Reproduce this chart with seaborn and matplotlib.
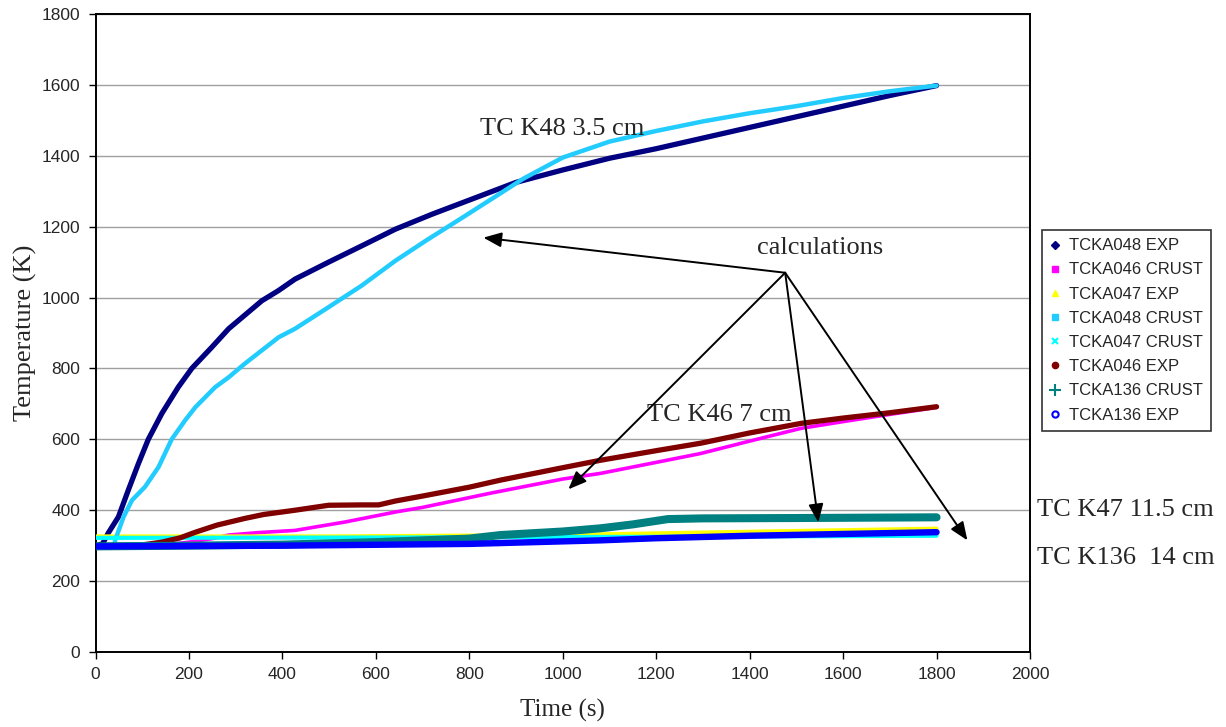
import numpy as np
import pandas as pd
import matplotlib
matplotlib.use("Agg")
import matplotlib.pyplot as plt
from matplotlib.lines import Line2D
import seaborn as sns

# ---------------- data ----------------
t_048_exp = [0, 15, 27, 49, 70, 92, 113, 142, 177, 206, 249, 285, 356, 392, 427, 499, 570,
             642, 720, 800, 900, 1000, 1100, 1200, 1300, 1400, 1500, 1600, 1700, 1800]
T_048_exp = [300, 305, 335, 381, 456, 532, 600, 673, 747, 800, 860, 912, 991, 1020, 1052, 1100, 1146,
             1193, 1235, 1275, 1325, 1360, 1393, 1420, 1450, 1480, 1510, 1540, 1570, 1598]

t_048_crust = [40, 42, 60, 78, 106, 135, 163, 192, 214, 256, 285, 320, 356, 392, 427, 499, 570,
               642, 710, 781, 850, 915, 1000, 1100, 1200, 1300, 1400, 1500, 1600, 1700, 1800]
T_048_crust = [300, 315, 381, 428, 466, 522, 600, 654, 691, 747, 775, 814, 851, 888, 912, 973, 1034,
               1104, 1163, 1222, 1280, 1335, 1395, 1440, 1470, 1497, 1520, 1540, 1563, 1582, 1598]

t_046_exp = [0, 100, 142, 181, 214, 260, 320, 360, 427, 499, 570, 606, 642, 700, 800, 867, 1000,
             1081, 1200, 1295, 1400, 1510, 1600, 1700, 1800]
T_046_exp = [300, 302, 310, 322, 338, 358, 377, 388, 400, 414, 415, 415, 426, 440, 465, 485, 520,
             541, 568, 589, 618, 645, 660, 675, 692]

t_046_crust = [0, 150, 200, 250, 285, 350, 427, 535, 642, 700, 845, 1000, 1081, 1200, 1295,
               1400, 1510, 1600, 1688, 1800]
T_046_crust = [300, 302, 310, 320, 330, 337, 343, 367, 395, 408, 448, 488, 504, 535, 560,
               595, 631, 650, 668, 690]

t_047_exp = [0, 500, 1000, 1300, 1800]
T_047_exp = [326, 326, 330, 337, 348]

t_047_crust = [0, 600, 1200, 1800]
T_047_crust = [322, 323, 325, 328]

t_136_crust = [0, 200, 400, 600, 800, 867, 1000, 1081, 1150, 1200, 1225, 1300, 1500, 1800]
T_136_crust = [298, 300, 303, 310, 320, 330, 340, 349, 360, 370, 375, 377, 378, 380]

t_136_exp = [0, 400, 800, 1081, 1200, 1400, 1600, 1800]
T_136_exp = [298, 300, 305, 315, 321, 328, 333, 338]

series_names = ["TCKA048 EXP", "TCKA046 CRUST", "TCKA047 EXP", "TCKA048 CRUST",
                "TCKA047 CRUST", "TCKA046 EXP", "TCKA136 CRUST", "TCKA136 EXP"]
series_t = [t_048_exp, t_046_crust, t_047_exp, t_048_crust,
            t_047_crust, t_046_exp, t_136_crust, t_136_exp]
series_T = [T_048_exp, T_046_crust, T_047_exp, T_048_crust,
            T_047_crust, T_046_exp, T_136_crust, T_136_exp]

x_ticks = [0, 200, 400, 600, 800, 1000, 1200, 1400, 1600, 1800, 2000]
y_ticks = [0, 200, 400, 600, 800, 1000, 1200, 1400, 1600, 1800]

# ---------------- style ----------------
colors = ["#000080", "#FF00FF", "#FFFF00", "#22CCFF",
          "#00FFFF", "#800000", "#008080", "#0000FF"]
widths = [3.8, 2.6, 3.0, 3.2, 3.0, 3.8, 5.8, 4.6]
markers = ["D", "s", "^", "s", "x", "o", "+", "o"]
msizes = [4, 4, 5, 4, 4, 4.5, 8, 4.5]

sns.set_style("white")
plt.rcParams["font.family"] = ["Liberation Sans", "DejaVu Sans"]

fig = plt.figure(figsize=(12.26, 7.27), dpi=100)
ax = fig.add_axes([95.5 / 1226, 1 - 652 / 727, (1030 - 95.5) / 1226, (652 - 14) / 727])

frames = []
for name, tt, TT in zip(series_names, series_t, series_T):
    frames.append(pd.DataFrame({"Time": tt, "Temp": TT, "series": name}))
df = pd.concat(frames, ignore_index=True)

for i, name in enumerate(series_names):
    sub = df[df["series"] == name]
    sns.lineplot(data=sub, x="Time", y="Temp", ax=ax, color=colors[i],
                 linewidth=widths[i], legend=False, zorder=3 + i,
                 solid_capstyle="round", solid_joinstyle="round", sort=False)

ax.set_xlim(0, 2000)
ax.set_ylim(0, 1800)
ax.set_xticks(x_ticks)
ax.set_yticks(y_ticks)
ax.tick_params(axis="both", labelsize=12.5, direction="out", length=5, width=1,
               color="black", bottom=True, left=True, pad=6)
ax.yaxis.grid(True, color="#a0a0a0", linewidth=1)
ax.xaxis.grid(False)
ax.set_axisbelow(True)
for sp in ax.spines.values():
    sp.set_color("black")
    sp.set_linewidth(1.4)

serif = ["Liberation Serif", "DejaVu Serif"]
ax.set_xlabel("Time (s)", fontsize=18, family=serif, labelpad=12)
ax.set_ylabel("Temperature (K)", fontsize=19, family=serif, labelpad=3)

# annotations
ax.text(823, 1476, "TC K48 3.5 cm", fontsize=19, family=serif, va="center", ha="left", zorder=20)
ax.text(1416, 1141, "calculations", fontsize=19, family=serif, va="center", ha="left", zorder=20)
ax.text(1181, 668, "TC K46 7 cm", fontsize=19, family=serif, va="center", ha="left", zorder=2)
ax.text(2016, 400, "TC K47 11.5 cm", fontsize=19, family=serif, va="center", ha="left", clip_on=False)
ax.text(2016, 265, "TC K136  14 cm", fontsize=19, family=serif, va="center", ha="left", clip_on=False)

tail = (1476, 1070)
heads = [(830, 1169), (1012, 459), (1547, 366), (1866, 315)]
for h in heads:
    ax.annotate("", xy=h, xytext=tail, zorder=25, annotation_clip=False,
                arrowprops=dict(arrowstyle="-|>,head_length=1.1,head_width=0.45",
                                color="black", lw=1.4, shrinkA=0, shrinkB=0))

# legend (markers only, as in the original)
handles = []
for i, name in enumerate(series_names):
    mfc = "white" if i == 7 else colors[i]
    handles.append(Line2D([], [], linestyle="none", marker=markers[i], color=colors[i],
                          markerfacecolor=mfc, markeredgecolor=colors[i],
                          markersize=msizes[i], markeredgewidth=1.5 if i in (4, 6, 7) else 1))
leg = fig.legend(handles, series_names, loc="upper left",
                 bbox_to_anchor=(1042 / 1226, 1 - 230 / 727), frameon=True, fancybox=False,
                 fontsize=12, handlelength=0.6, handletextpad=0.5, labelspacing=0.55,
                 borderpad=0.5, borderaxespad=0)
leg.get_frame().set_edgecolor("black")
leg.get_frame().set_linewidth(1.2)

fig.savefig("out.png", dpi=100)
